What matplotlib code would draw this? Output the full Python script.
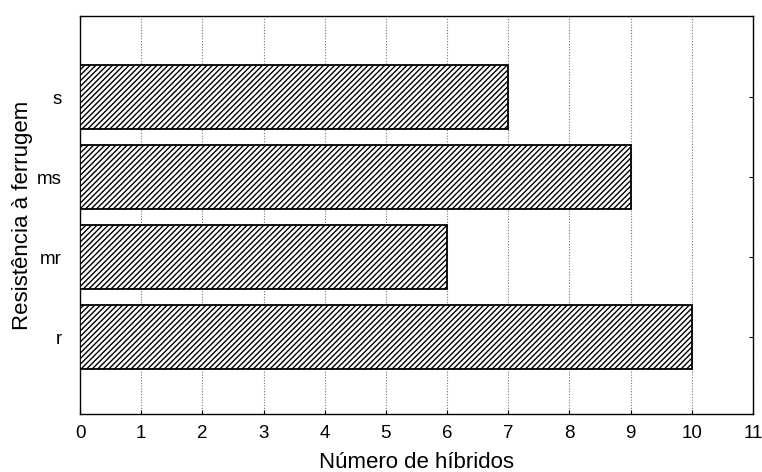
import matplotlib
matplotlib.use("Agg")
import matplotlib.pyplot as plt

categories = ["r", "mr", "ms", "s"]
counts = [10, 6, 9, 7]
x_ticks = list(range(0, 12))

plt.rcParams["font.family"] = ["Liberation Sans", "DejaVu Sans"]
plt.rcParams["hatch.linewidth"] = 1.0

fig = plt.figure(figsize=(7.62, 4.72), dpi=100)
ax = fig.add_axes([80 / 762, 58 / 472, 673 / 762, 398 / 472])

ypos = list(range(len(categories)))
ax.barh(ypos, counts, height=0.8, color="white", edgecolor="black",
        hatch="//////", linewidth=1.3, zorder=3)

ax.set_xlim(0, 11)
ax.set_ylim(-0.9625, 3 + 1.0125)
ax.set_xticks(x_ticks)
ax.set_yticks(ypos)
ax.set_yticklabels(categories)

ax.grid(axis="x", linestyle=(0, (1, 1.5)), color="#777777", linewidth=0.8, zorder=0)
ax.tick_params(axis="both", direction="in", length=3, labelsize=13.5,
               right=True, top=False)
ax.tick_params(axis="x", pad=8)
ax.tick_params(axis="y", left=False, pad=13)
for s in ax.spines.values():
    s.set_linewidth(1.0)

ax.set_xlabel("Número de híbridos", fontsize=16, labelpad=7)
ax.set_ylabel("Resistência à ferrugem", fontsize=16, labelpad=3)

fig.savefig("out.png", dpi=100)
